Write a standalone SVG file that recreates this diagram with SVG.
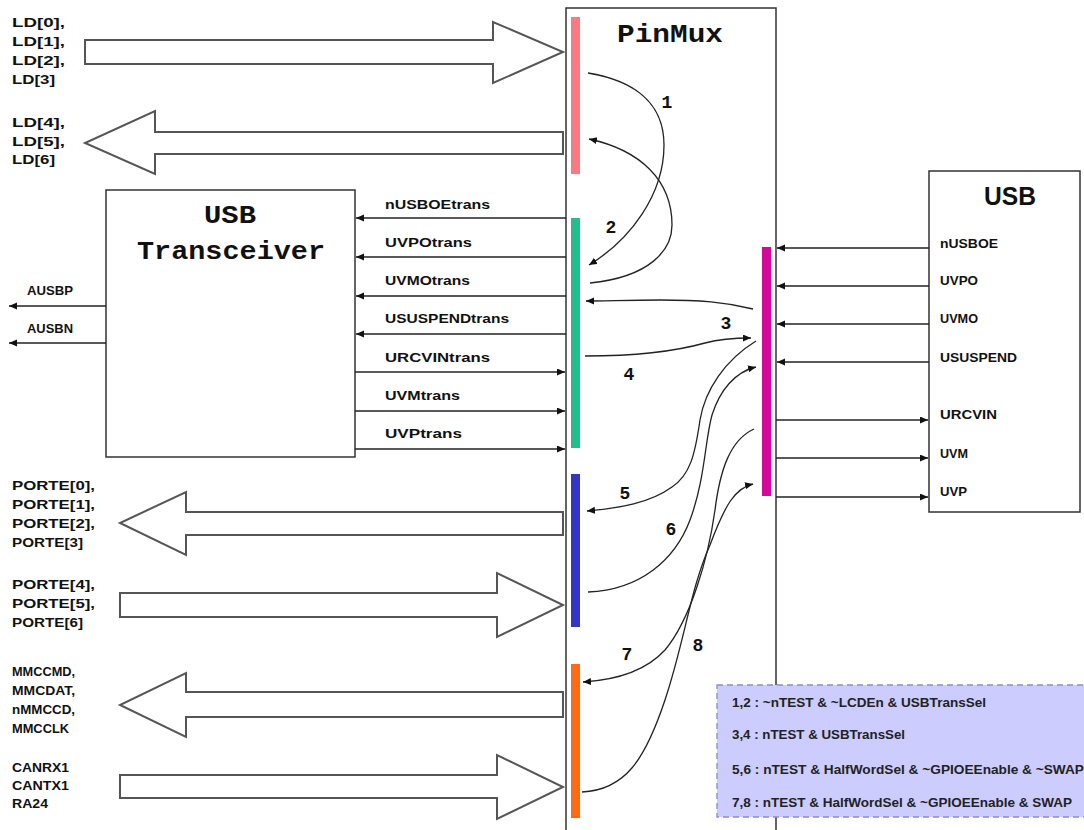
<svg xmlns="http://www.w3.org/2000/svg" width="1084" height="830" viewBox="0 0 1084 830">
<defs>
<marker id="ah" markerUnits="userSpaceOnUse" markerWidth="9" markerHeight="8" refX="8" refY="3.5" orient="auto">
<path d="M0,0 L8,3.5 L0,7 z" fill="#111"/>
</marker>
<style>
.box{fill:#fff;stroke:#333;stroke-width:1.5}
.blk{fill:#fff;stroke:#555;stroke-width:2}
.sig{fill:none;stroke:#222;stroke-width:1.3;marker-end:url(#ah)}
.crv{fill:none;stroke:#222;stroke-width:1.3}
.crva{fill:none;stroke:#222;stroke-width:1.3;marker-end:url(#ah)}
.lbl{font-family:"Liberation Sans",Arial,sans-serif;font-weight:bold;font-size:13px;fill:#111}
.ttl{font-family:"Liberation Mono","DejaVu Sans Mono",monospace;font-weight:bold;font-size:26px;fill:#111}
.num{font-family:"Liberation Mono","DejaVu Sans Mono",monospace;font-weight:bold;font-size:18px;fill:#111}
.leg{font-family:"Liberation Sans",Arial,sans-serif;font-weight:bold;font-size:13px;fill:#222}
</style>
</defs>
<rect width="1084" height="830" fill="#fff"/>

<g id="pinmux">
<path d="M566,836 V8 H776 V836" fill="none" stroke="#333" stroke-width="1.5"/>
<text class="ttl" x="617" y="42" textLength="106" lengthAdjust="spacingAndGlyphs">PinMux</text>
<rect x="571" y="17" width="9" height="157" fill="#f87a82"/>
<rect x="571" y="218" width="9" height="230" fill="#1fc08e"/>
<rect x="571" y="474" width="9" height="153" fill="#3434c8"/>
<rect x="571" y="664" width="9" height="154" fill="#ff6a12"/>
<rect x="762" y="247" width="9" height="249" fill="#d4089a"/>
</g>

<g id="usb-transceiver">
<rect class="box" x="106" y="190" width="249" height="267"/>
<text class="ttl" x="204" y="223" textLength="52" lengthAdjust="spacingAndGlyphs">USB</text>
<text class="ttl" x="137" y="259" textLength="188" lengthAdjust="spacingAndGlyphs">Transceiver</text>
</g>

<g id="usb">
<rect class="box" x="929" y="171" width="151" height="341"/>
<text x="984" y="205" font-family="Liberation Sans,Arial,sans-serif" font-weight="bold" font-size="25" fill="#111" textLength="52" lengthAdjust="spacingAndGlyphs">USB</text>
</g>

<g id="legend">
<rect x="717" y="685" width="380" height="132" fill="#ccccff" stroke="#8a8ad0" stroke-width="1.3" stroke-dasharray="6,4"/>
<text class="leg" x="732" y="707" textLength="254" lengthAdjust="spacingAndGlyphs">1,2 : ~nTEST &amp; ~LCDEn &amp; USBTransSel</text>
<text class="leg" x="732" y="739" textLength="173" lengthAdjust="spacingAndGlyphs">3,4 : nTEST &amp; USBTransSel</text>
<text class="leg" x="732" y="774" textLength="352" lengthAdjust="spacingAndGlyphs">5,6 : nTEST &amp; HalfWordSel &amp; ~GPIOEEnable &amp; ~SWAP</text>
<text class="leg" x="732" y="807" textLength="340" lengthAdjust="spacingAndGlyphs">7,8 : nTEST &amp; HalfWordSel &amp; ~GPIOEEnable &amp; SWAP</text>
</g>

<g id="bus-ld0-3">
<path class="blk" d="M85,40 H493 V22 L563,52 L493,83 V64 H85 Z"/>
<text class="lbl" x="12" y="27" textLength="53" lengthAdjust="spacingAndGlyphs">LD[0],</text>
<text class="lbl" x="12" y="46" textLength="53" lengthAdjust="spacingAndGlyphs">LD[1],</text>
<text class="lbl" x="12" y="65" textLength="53" lengthAdjust="spacingAndGlyphs">LD[2],</text>
<text class="lbl" x="12" y="84" textLength="43" lengthAdjust="spacingAndGlyphs">LD[3]</text>
</g>
<g id="bus-ld4-6">
<path class="blk" d="M563,132 H155 V111 L85,143 L155,174 V154 H563 Z"/>
<text class="lbl" x="12" y="127" textLength="53" lengthAdjust="spacingAndGlyphs">LD[4],</text>
<text class="lbl" x="12" y="146" textLength="53" lengthAdjust="spacingAndGlyphs">LD[5],</text>
<text class="lbl" x="12" y="164" textLength="43" lengthAdjust="spacingAndGlyphs">LD[6]</text>
</g>
<g id="bus-porte0-3">
<path class="blk" d="M563,512 H186 V492 L120,523 L186,555 V535 H563 Z"/>
<text class="lbl" x="12" y="490" textLength="83" lengthAdjust="spacingAndGlyphs">PORTE[0],</text>
<text class="lbl" x="12" y="509" textLength="83" lengthAdjust="spacingAndGlyphs">PORTE[1],</text>
<text class="lbl" x="12" y="528" textLength="83" lengthAdjust="spacingAndGlyphs">PORTE[2],</text>
<text class="lbl" x="12" y="547" textLength="71" lengthAdjust="spacingAndGlyphs">PORTE[3]</text>
</g>
<g id="bus-porte4-6">
<path class="blk" d="M120,593 H497 V573 L563,605 L497,637 V617 H120 Z"/>
<text class="lbl" x="12" y="589" textLength="83" lengthAdjust="spacingAndGlyphs">PORTE[4],</text>
<text class="lbl" x="12" y="608" textLength="83" lengthAdjust="spacingAndGlyphs">PORTE[5],</text>
<text class="lbl" x="12" y="627" textLength="71" lengthAdjust="spacingAndGlyphs">PORTE[6]</text>
</g>
<g id="bus-mmc">
<path class="blk" d="M563,692 H186 V673 L120,705 L186,737 V717 H563 Z"/>
<text class="lbl" x="12" y="676" textLength="63" lengthAdjust="spacingAndGlyphs">MMCCMD,</text>
<text class="lbl" x="12" y="695" textLength="63" lengthAdjust="spacingAndGlyphs">MMCDAT,</text>
<text class="lbl" x="12" y="714" textLength="63" lengthAdjust="spacingAndGlyphs">nMMCCD,</text>
<text class="lbl" x="12" y="733" textLength="57" lengthAdjust="spacingAndGlyphs">MMCCLK</text>
</g>
<g id="bus-can">
<path class="blk" d="M120,775 H497 V755 L563,787 L497,819 V798 H120 Z"/>
<text class="lbl" x="12" y="772" textLength="57" lengthAdjust="spacingAndGlyphs">CANRX1</text>
<text class="lbl" x="12" y="790" textLength="57" lengthAdjust="spacingAndGlyphs">CANTX1</text>
<text class="lbl" x="12" y="808" textLength="36" lengthAdjust="spacingAndGlyphs">RA24</text>
</g>

<g id="connectors">
<!-- transceiver <-> pinmux -->
<line class="sig" x1="566" y1="218" x2="356" y2="218"/>
<line class="sig" x1="566" y1="257" x2="356" y2="257"/>
<line class="sig" x1="566" y1="296" x2="356" y2="296"/>
<line class="sig" x1="566" y1="334" x2="356" y2="334"/>
<line class="sig" x1="355" y1="372" x2="565" y2="372"/>
<line class="sig" x1="355" y1="411" x2="565" y2="411"/>
<line class="sig" x1="355" y1="449" x2="565" y2="449"/>
<!-- AUSB -->
<line class="sig" x1="106" y1="306" x2="9" y2="306"/>
<line class="sig" x1="106" y1="343" x2="9" y2="343"/>
<!-- usb <-> pinmux -->
<line class="sig" x1="929" y1="248" x2="777" y2="248"/>
<line class="sig" x1="929" y1="286" x2="777" y2="286"/>
<line class="sig" x1="929" y1="324" x2="777" y2="324"/>
<line class="sig" x1="929" y1="362" x2="777" y2="362"/>
<line class="sig" x1="776" y1="420" x2="928" y2="420"/>
<line class="sig" x1="776" y1="458" x2="928" y2="458"/>
<line class="sig" x1="776" y1="497" x2="928" y2="497"/>
<!-- mux curves -->
<path class="crva" d="M588,73 C630,80 664,100 664,145 C664,195 630,240 589,265"/>
<path class="crva" d="M590,283 C650,277 672,250 672,225 C672,180 640,150 589,139"/>
<path class="crva" d="M753,309 C725,302 700,300 660,300 C630,300 605,301 586,301"/>
<path class="crva" d="M585,356 C640,356 680,350 705,343 C720,339 735,338 751,338"/>
<path class="crva" d="M756,341 C725,360 705,390 700,420 C695,455 690,475 672,487 C650,503 620,508 587,511"/>
<path class="crva" d="M588,592 C640,590 675,560 690,520 C705,480 705,440 712,415 C720,390 735,372 756,367"/>
<path class="crva" d="M754,429 C730,440 720,470 715,510 C708,560 690,620 665,650 C645,672 615,680 583,682"/>
<path class="crva" d="M582,792 C625,790 645,760 665,700 C685,640 690,590 710,545 C725,505 735,488 753,484"/>
</g>

<g id="signal-labels">
<text class="lbl" x="385" y="209" textLength="105" lengthAdjust="spacingAndGlyphs">nUSBOEtrans</text>
<text class="lbl" x="385" y="247" textLength="87" lengthAdjust="spacingAndGlyphs">UVPOtrans</text>
<text class="lbl" x="385" y="285" textLength="85" lengthAdjust="spacingAndGlyphs">UVMOtrans</text>
<text class="lbl" x="385" y="323" textLength="124" lengthAdjust="spacingAndGlyphs">USUSPENDtrans</text>
<text class="lbl" x="385" y="362" textLength="105" lengthAdjust="spacingAndGlyphs">URCVINtrans</text>
<text class="lbl" x="385" y="400" textLength="75" lengthAdjust="spacingAndGlyphs">UVMtrans</text>
<text class="lbl" x="385" y="438" textLength="77" lengthAdjust="spacingAndGlyphs">UVPtrans</text>
<text class="lbl" x="27" y="295" textLength="46" lengthAdjust="spacingAndGlyphs">AUSBP</text>
<text class="lbl" x="27" y="333" textLength="46" lengthAdjust="spacingAndGlyphs">AUSBN</text>
<text class="lbl" x="940" y="248" textLength="58" lengthAdjust="spacingAndGlyphs">nUSBOE</text>
<text class="lbl" x="940" y="285" textLength="38" lengthAdjust="spacingAndGlyphs">UVPO</text>
<text class="lbl" x="940" y="323" textLength="38" lengthAdjust="spacingAndGlyphs">UVMO</text>
<text class="lbl" x="940" y="362" textLength="77" lengthAdjust="spacingAndGlyphs">USUSPEND</text>
<text class="lbl" x="940" y="419" textLength="57" lengthAdjust="spacingAndGlyphs">URCVIN</text>
<text class="lbl" x="940" y="458" textLength="28" lengthAdjust="spacingAndGlyphs">UVM</text>
<text class="lbl" x="940" y="496" textLength="27" lengthAdjust="spacingAndGlyphs">UVP</text>
</g>

<g id="curve-numbers">
<text class="num" x="667" y="108" text-anchor="middle">1</text>
<text class="num" x="611" y="233" text-anchor="middle">2</text>
<text class="num" x="726" y="329" text-anchor="middle">3</text>
<text class="num" x="629" y="380" text-anchor="middle">4</text>
<text class="num" x="625" y="499" text-anchor="middle">5</text>
<text class="num" x="671" y="535" text-anchor="middle">6</text>
<text class="num" x="627" y="660" text-anchor="middle">7</text>
<text class="num" x="698" y="651" text-anchor="middle">8</text>
</g>
</svg>
